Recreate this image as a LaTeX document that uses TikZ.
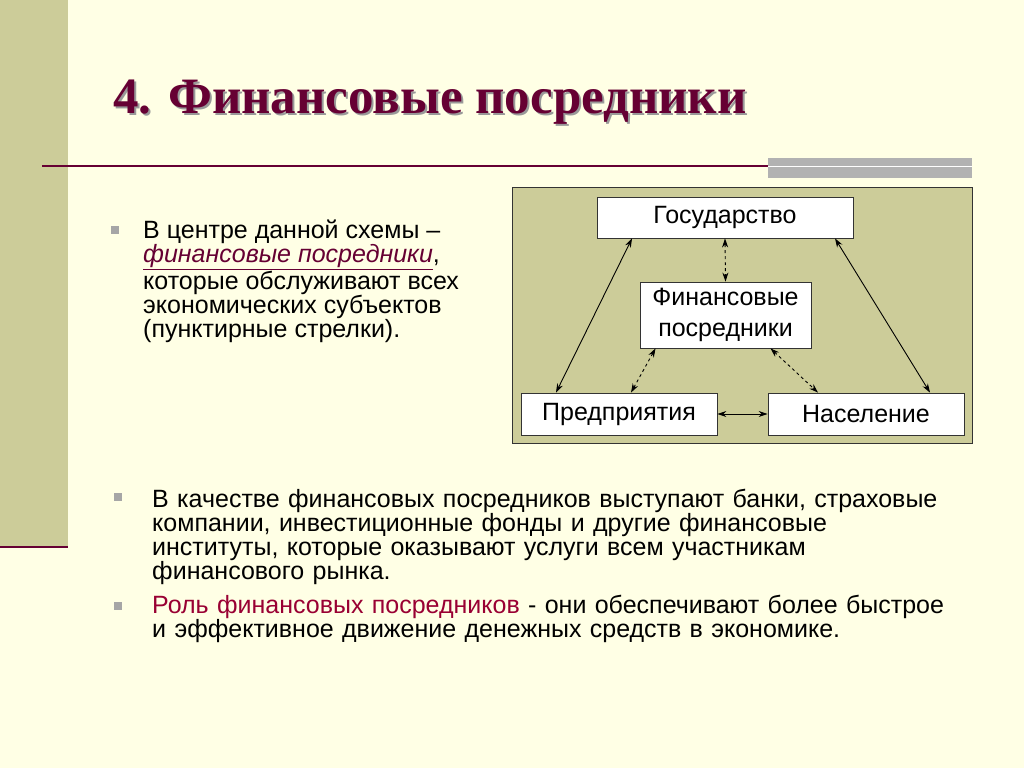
\documentclass[tikz,border=0pt]{standalone}
\usepackage{fontspec}
\setmainfont{Liberation Sans}
\newfontfamily\titlefont{Liberation Serif}
\usetikzlibrary{arrows.meta}
\definecolor{cream}{HTML}{FFFFE5}
\definecolor{olive}{HTML}{CCCC99}
\definecolor{maroon}{HTML}{660033}
\definecolor{roleclr}{HTML}{990033}
\tikzset{
  txt/.style={anchor=north west, inner sep=0pt, align=left, font=\fontsize{25}{24}\selectfont},
  blt/.style={fill=black!35, minimum size=8pt, inner sep=0pt},
  box/.style={draw=black!80, fill=white, line width=0.8pt, inner sep=0pt, font=\fontsize{25}{31}\selectfont, align=center},
  link/.style={{Stealth[length=9pt,width=6pt]}-{Stealth[length=9pt,width=6pt]}, line width=0.9pt},
  dlink/.style={link, dashed}
}
\begin{document}
\begin{tikzpicture}[x=1pt,y=-1pt]
\fill[cream] (0,0) rectangle (1024,768);
\useasboundingbox (0,0) rectangle (1024,768);
% left strip
\fill[olive] (0,0) rectangle (68,548);
\draw[maroon, line width=2.5pt] (0,547) -- (68,547);
% title and rule
\node[anchor=west, inner sep=0pt, text=black!40, font=\titlefont\bfseries\fontsize{51}{55}\selectfont] at (115,104) {4. Финансовые посредники};
\node[anchor=west, inner sep=0pt, text=maroon, font=\titlefont\bfseries\fontsize{51}{55}\selectfont] (title) at (113,102) {4. Финансовые посредники};
\draw[maroon, line width=1.5pt] (42,166) -- (970,166);
\fill[black!30] (768,158) rectangle (972,178);
\draw[white, line width=1pt] (768,166) -- (972,166);
% left bullet
\node[blt] (b1) at (115,230) {};
\node[txt] (t1) at (143,220) {В центре данной схемы –\\
  \textcolor{maroon}{\textit{\underline{финансовые посредники}}},\\
  которые обслуживают всех\\экономических субъектов\\(пунктирные стрелки).};
% diagram
\draw[fill=olive, draw=black!80, line width=0.8pt] (512,187) rectangle (972,443);
\node[box, minimum width=256pt, minimum height=41pt] (gos) at (725,217.5) {Государство};
\node[box, minimum width=171pt, minimum height=66pt] (fin) at (725.5,315) {Финансовые\\посредники};
\node[box, minimum width=196pt, minimum height=42pt] (pred) at (619,414) {Предприятия};
\node[box, minimum width=196pt, minimum height=42pt] (nas) at (866,414) {Население};
\draw[link] ([xshift=-93pt]gos.south) -- ([xshift=-63pt]pred.north);
\draw[link] ([xshift=110pt]gos.south) -- ([xshift=64pt]nas.north);
\draw[dlink] (gos.south) -- (fin.north);
\draw[dlink] ([xshift=-70pt]fin.south) -- ([xshift=12pt]pred.north);
\draw[dlink] ([xshift=45pt]fin.south) -- ([xshift=-48pt]nas.north);
\draw[link] (pred.east) -- (nas.west);
% bottom bullets
\node[blt] (b2) at (118,497) {};
\node[txt, text width=840pt] (t2) at (152,489) {В качестве финансовых посредников выступают банки, страховые\\
  компании, инвестиционные фонды и другие финансовые\\
  институты, которые оказывают услуги всем участникам\\финансового рынка.};
\node[blt] (b3) at (118,606) {};
\node[txt, text width=840pt] (t3) at (152,595) {\textcolor{roleclr}{Роль финансовых посредников} - они обеспечивают более быстрое\\
  и эффективное движение денежных средств в экономике.};
\end{tikzpicture}
\end{document}
